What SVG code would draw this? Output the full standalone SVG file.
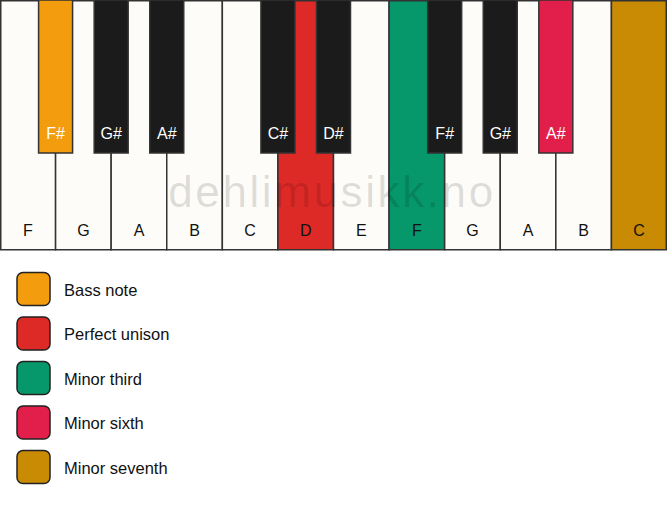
<svg xmlns="http://www.w3.org/2000/svg" width="667" height="506" viewBox="0 0 667 506">
<style>
.w{fill:#fdfcf8;stroke:#333;stroke-width:1.5}
.b{fill:#1b1b1b;stroke:#333;stroke-width:1.5}
.t{font-family:"Liberation Sans",Arial,sans-serif;font-size:16px;text-anchor:middle;fill:#111}
.tb{font-family:"Liberation Sans",Arial,sans-serif;font-size:16px;text-anchor:middle;fill:#fff}
.lg{stroke:#222;stroke-width:1.5}
.lt{font-family:"Liberation Sans",Arial,sans-serif;font-size:16.5px;fill:#111}
</style>
<rect width="667" height="506" fill="#fff"/>
<g id="white-keys">
<g id="wk-F1"><rect class="w" x="0.75" y="0.75" width="54.83" height="249"/><text class="t" x="27.8" y="236">F</text></g>
<g id="wk-G1"><rect class="w" x="55.58" y="0.75" width="55.58" height="249"/><text class="t" x="83.4" y="236">G</text></g>
<g id="wk-A1"><rect class="w" x="111.17" y="0.75" width="55.58" height="249"/><text class="t" x="139" y="236">A</text></g>
<g id="wk-B1"><rect class="w" x="166.75" y="0.75" width="55.58" height="249"/><text class="t" x="194.5" y="236">B</text></g>
<g id="wk-C1"><rect class="w" x="222.33" y="0.75" width="55.58" height="249"/><text class="t" x="250.1" y="236">C</text></g>
<g id="wk-D1"><rect class="w" style="fill:#dd2a27" x="277.92" y="0.75" width="55.58" height="249"/><text class="t" x="305.7" y="236">D</text></g>
<g id="wk-E1"><rect class="w" x="333.5" y="0.75" width="55.58" height="249"/><text class="t" x="361.3" y="236">E</text></g>
<g id="wk-F2"><rect class="w" style="fill:#06976a" x="389.08" y="0.75" width="55.58" height="249"/><text class="t" x="416.9" y="236">F</text></g>
<g id="wk-G2"><rect class="w" x="444.67" y="0.75" width="55.58" height="249"/><text class="t" x="472.5" y="236">G</text></g>
<g id="wk-A2"><rect class="w" x="500.25" y="0.75" width="55.58" height="249"/><text class="t" x="528" y="236">A</text></g>
<g id="wk-B2"><rect class="w" x="555.83" y="0.75" width="55.58" height="249"/><text class="t" x="583.6" y="236">B</text></g>
<g id="wk-C2"><rect class="w" style="fill:#c98a04" x="611.42" y="0.75" width="54.83" height="249"/><text class="t" x="639" y="236">C</text></g>
</g>
<text x="332" y="207" font-family="Liberation Sans,Arial,sans-serif" font-size="44" text-anchor="middle" fill="#000" fill-opacity="0.13" letter-spacing="2.6">dehlimusikk.no</text>
<g id="black-keys">
<g id="bk-Fs1"><rect class="b" style="fill:#f39c0d" x="38.58" y="0" width="34" height="153"/><text class="tb" x="55.6" y="139">F#</text></g>
<g id="bk-Gs1"><rect class="b" x="94.17" y="0" width="34" height="153"/><text class="tb" x="111.2" y="139">G#</text></g>
<g id="bk-As1"><rect class="b" x="149.75" y="0" width="34" height="153"/><text class="tb" x="166.8" y="139">A#</text></g>
<g id="bk-Cs1"><rect class="b" x="260.92" y="0" width="34" height="153"/><text class="tb" x="277.9" y="139">C#</text></g>
<g id="bk-Ds1"><rect class="b" x="316.5" y="0" width="34" height="153"/><text class="tb" x="333.5" y="139">D#</text></g>
<g id="bk-Fs2"><rect class="b" x="427.67" y="0" width="34" height="153"/><text class="tb" x="444.7" y="139">F#</text></g>
<g id="bk-Gs2"><rect class="b" x="483.25" y="0" width="34" height="153"/><text class="tb" x="500.3" y="139">G#</text></g>
<g id="bk-As2"><rect class="b" style="fill:#e21f4b" x="538.83" y="0" width="34" height="153"/><text class="tb" x="555.8" y="139">A#</text></g>
</g>
<g id="legend">
<g id="lg-bass"><rect class="lg" x="17" y="272.5" width="33" height="33" rx="6" fill="#f39c0d"/><text class="lt" x="64" y="295.5">Bass note</text></g>
<g id="lg-unison"><rect class="lg" x="17" y="317" width="33" height="33" rx="6" fill="#dd2a27"/><text class="lt" x="64" y="340">Perfect unison</text></g>
<g id="lg-third"><rect class="lg" x="17" y="361.5" width="33" height="33" rx="6" fill="#06976a"/><text class="lt" x="64" y="384.5">Minor third</text></g>
<g id="lg-sixth"><rect class="lg" x="17" y="406" width="33" height="33" rx="6" fill="#e21f4b"/><text class="lt" x="64" y="429">Minor sixth</text></g>
<g id="lg-seventh"><rect class="lg" x="17" y="450.5" width="33" height="33" rx="6" fill="#c98a04"/><text class="lt" x="64" y="473.5">Minor seventh</text></g>
</g>
</svg>
